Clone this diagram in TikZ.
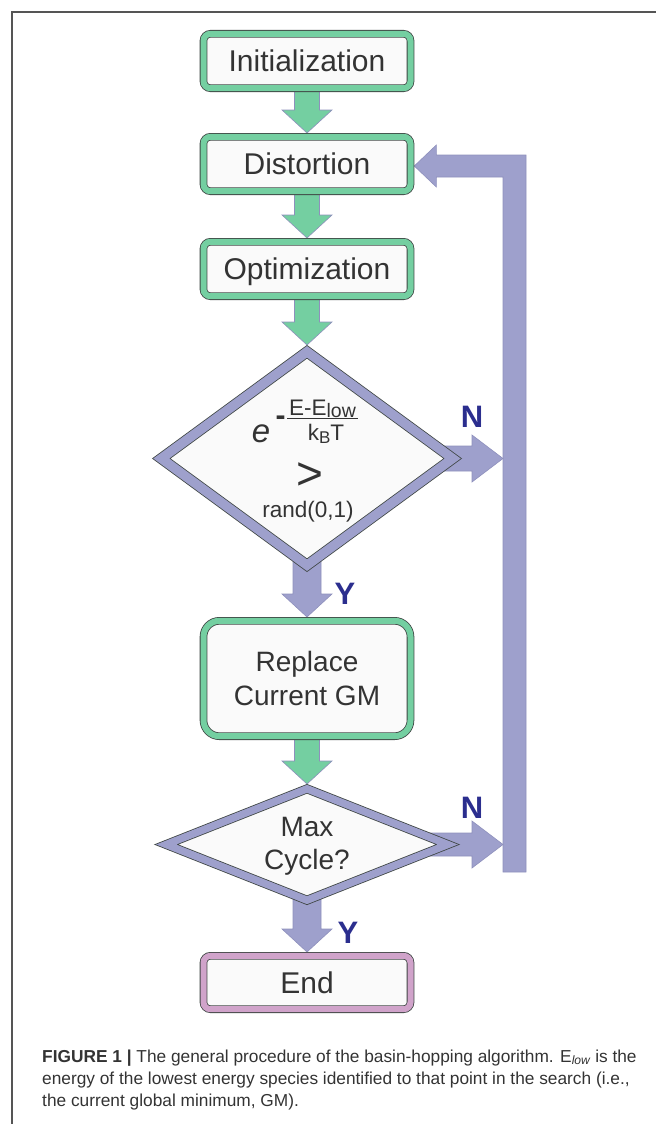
\documentclass[tikz,border=0pt]{standalone}
\usepackage{fontspec}
\setmainfont{Liberation Sans}
\usetikzlibrary{calc,shapes.geometric}
\pgfdeclarelayer{background}
\pgfsetlayers{background,main}
\definecolor{grn}{HTML}{74CFA1}
\definecolor{lav}{HTML}{9EA0CC}
\definecolor{lavedge}{HTML}{8E90BC}
\definecolor{dk}{HTML}{3F4644}
\definecolor{pnk}{HTML}{D0A3CA}
\definecolor{boxfill}{HTML}{FAFAFA}
\definecolor{txt}{HTML}{333333}
\definecolor{lab}{HTML}{2B2E8E}
\definecolor{frm}{HTML}{555555}
\newcommand{\fsz}[1]{\fontsize{#1}{#1}\selectfont}
% vertical block arrow: start, tip, fill colour, half shaft width
\newcommand{\varrow}[4]{%
  \filldraw[fill=#3, draw=lavedge, line width=0.6pt]
   ($(#1)+(-#4,0)$) -- ($(#1)+(#4,0)$) -- ($(#2)+(#4,-23)$) -- ($(#2)+(25,-23)$) -- (#2)
   -- ($(#2)+(-25,-23)$) -- ($(#2)+(-#4,-23)$) -- cycle;}
% horizontal block arrow: start, tip, half shaft width
\newcommand{\harrow}[3]{%
  \filldraw[fill=lav, draw=lavedge, line width=0.6pt]
   ($(#1)+(0,-#3)$) -- ($(#2)+(-31,-#3)$) -- ($(#2)+(-31,-23.5)$) -- (#2)
   -- ($(#2)+(-31,23.5)$) -- ($(#2)+(-31,#3)$) -- ($(#1)+(0,#3)$) -- cycle;}
\tikzset{
  boxbase/.style={draw=dk, line width=0.8pt, double distance=6pt, fill=boxfill,
    minimum width=207pt, inner sep=0pt, outer sep=3.8pt, text=txt},
  boxnode/.style={boxbase, double=grn, rounded corners=7pt, minimum height=54.4pt,
    font=\fsz{30}, text height=21.5pt, text depth=0pt},
  replbox/.style={boxbase, double=grn, rounded corners=16pt, minimum height=115.4pt,
    font=\fontsize{28}{34}\selectfont, align=center},
  endbox/.style={boxbase, double=pnk, rounded corners=7pt, minimum height=53.4pt,
    font=\fsz{30}, text height=21.5pt, text depth=0pt},
  dia/.style={shape=diamond, draw=dk, double=lav, line width=0.8pt, fill=boxfill,
    inner sep=0pt, outer sep=0pt},
  yn/.style={text=lab, font=\fsz{31}\bfseries, inner sep=0pt, anchor=base},
  ftxt/.style={text=txt, inner sep=0pt, anchor=base},
  captxt/.style={text=txt, font=\fsz{17.3}, inner sep=0pt, anchor=base west}
}
\begin{document}
\begin{tikzpicture}[x=1pt, y=-1pt]
\useasboundingbox (0,0) rectangle (656,1124);
\draw[frm, line width=1.5pt] (12,1124) -- (12,12) -- (656,12);

\node[boxnode] (init) at (307,61) {Initialization};
\node[boxnode] (dist) at (307,164) {Distortion};
\node[boxnode] (opt) at (307,269) {Optimization};
\node[dia, minimum width=291.4pt, minimum height=213.4pt, double distance=9.4pt] (d1) at (307,458.5) {};
\node[replbox] (repl) at (307,678.5) {Replace\\Current GM};
\node[dia, minimum width=281.6pt, minimum height=111.4pt, double distance=7.4pt] (d2) at (307,844.5) {};
\node[endbox] (end) at (307,982.5) {End};

% formula in first diamond
\node[ftxt, font=\fsz{33}\itshape] (ee) at (261,442) {e};
\node[ftxt, font=\fsz{30}\bfseries] (mn) at (280.5,425.5) {-};
\node[ftxt, font=\fsz{22.5}] (num) at (322.5,415) {E-E\raisebox{-2.5pt}{\fsz{19.5}low}};
\draw[txt, line width=1.3pt] (287,418.5) -- (358,418.5);
\node[ftxt, font=\fsz{22.5}] (den) at (326,440) {k\raisebox{-3pt}{\fsz{17}B}T};
\node[ftxt, font=\fsz{46}] (gt) at (309.5,489.5) {>};
\node[ftxt, font=\fsz{22.5}] (rnd) at (308,517) {rand(0,1)};
% text in second diamond
\node[text=txt, font=\fontsize{28}{33}\selectfont, align=center, inner sep=0pt] (d2t) at (307,846.5) {Max\\Cycle?};

% labels
\node[yn] (n1) at (472,427) {N};
\node[yn] (n2) at (472,818) {N};
\node[yn] (y1) at (345,604) {Y};
\node[yn] (y2) at (348,943) {Y};

\coordinate (barbot) at (514.5,872);
\coordinate (barL) at (503,0);
\coordinate (rtip) at ($(dist.east)+(0,2)$);

\begin{pgfonlayer}{background}
  \filldraw[fill=lav, draw=lavedge, line width=0.6pt]
    ($(barbot)+(-11.5,0)$) -- ($(barbot)+(11.5,0)$) -- ($(barbot |- rtip)+(11.5,-11)$)
    -- ($(rtip)+(22,-11)$) -- ($(rtip)+(22,-21)$) -- (rtip) -- ($(rtip)+(22,21)$)
    -- ($(rtip)+(22,11)$) -- ($(barbot |- rtip)+(-11.5,11)$) -- cycle;
  \coordinate (s1) at ($(init.south)+(0,-8)$);
  \varrow{s1}{dist.north}{grn}{12.5}
  \coordinate (s2) at ($(dist.south)+(0,-8)$);
  \varrow{s2}{opt.north}{grn}{12.5}
  \coordinate (d1top) at ($(d1.north)+(0,-6.8)$);
  \coordinate (s3) at ($(opt.south)+(0,-8)$);
  \varrow{s3}{d1top}{grn}{12.5}
  \coordinate (s4) at ($(d1.south)+(0,-15)$);
  \varrow{s4}{repl.north}{lav}{14}
  \coordinate (d2top) at ($(d2.north)+(0,-4.8)$);
  \coordinate (s5) at ($(repl.south)+(0,-8)$);
  \varrow{s5}{d2top}{grn}{12.5}
  \coordinate (s6) at ($(d2.south)+(0,-15)$);
  \varrow{s6}{end.north}{lav}{14}
  \coordinate (t1) at (d1.east -| barL);
  \coordinate (t2) at (d2.east -| barL);
  \coordinate (s7) at ($(d1.east)+(-25,0)$);
  \coordinate (s8) at ($(d2.east)+(-25,0)$);
  \harrow{s7}{t1}{12.5}
  \harrow{s8}{t2}{11.5}
\end{pgfonlayer}

% caption
\node[captxt] (c1) at (42,1062) {\textbf{FIGURE 1 |} The general procedure of the basin-hopping algorithm. E\textsubscript{\itshape low} is the};
\node[captxt] (c2) at (42,1084) {energy of the lowest energy species identified to that point in the search (i.e.,};
\node[captxt] (c3) at (42,1106) {the current global minimum, GM).};
\end{tikzpicture}
\end{document}
